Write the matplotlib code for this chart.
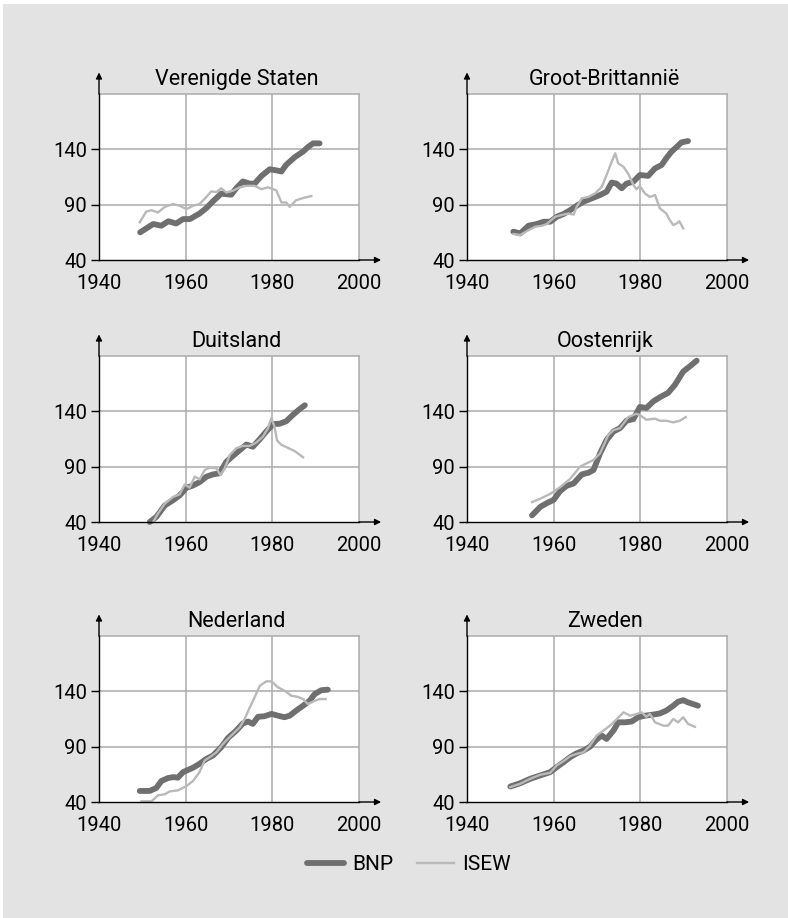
import matplotlib
matplotlib.use("Agg")
import matplotlib.pyplot as plt
from matplotlib.lines import Line2D
from matplotlib.patches import Rectangle

plt.rcParams['font.family'] = ['Roboto', 'DejaVu Sans']

# Verenigde Staten
us_bnp_x = [1949.5, 1952.5, 1954.4, 1956, 1957.8, 1959.4, 1961, 1963.2, 1964.8, 1966.3, 1968.2, 1969, 1970.5,
            1971.7, 1973.2, 1974.8, 1975.9, 1977.5, 1979.4, 1980.9, 1982.1, 1983.2, 1985.2, 1987.1, 1988.2,
            1989.4, 1990.9]
us_bnp_y = [65, 72.5, 71, 75, 73, 77, 77, 82, 87, 93, 100, 99.6, 99, 105, 111, 109, 109, 116, 122, 121, 120,
            126, 133, 138, 142, 145.4, 145.4]
us_isew_x = [1949.4, 1950.9, 1952.1, 1953.6, 1955.2, 1957.1, 1958.6, 1960.2, 1961.7, 1963.2, 1964.8, 1965.9,
             1967.1, 1968.2, 1969.4, 1970.9, 1972.5, 1974, 1975.9, 1977.5, 1979, 1980.9, 1982.1, 1983.2, 1984,
             1985.5, 1987.1, 1989]
us_isew_y = [74, 83.7, 85, 83, 88, 90.6, 89, 86, 89, 90.6, 97, 102, 101.4, 104.8, 101, 102.6, 105.7, 107, 107,
             104, 105.7, 103, 92, 92, 88, 94, 96, 97.8]

# Groot-Brittannie
gb_bnp_x = [1950.7, 1952.3, 1954.2, 1956.1, 1957.7, 1959.2, 1960.7, 1962.3, 1963.8, 1965.3, 1966.9, 1968.8,
            1970.7, 1972.2, 1973.4, 1974.5, 1975.7, 1976.8, 1978.4, 1979.9, 1981.8, 1983.4, 1984.9, 1986,
            1987.2, 1988.3, 1989.5, 1991]
gb_bnp_y = [65.6, 64, 71, 72.5, 74.6, 74.6, 79, 81.6, 85, 89, 92.7, 95.7, 98.7, 101.7, 110, 109, 104.8, 109,
            110.8, 116.8, 116, 122.8, 125.8, 132, 138, 141.8, 146.3, 147.5]
gb_isew_x = [1950.7, 1952.3, 1954.2, 1955.7, 1957.3, 1958.4, 1960.3, 1961.9, 1963.4, 1964.6, 1965.3, 1966.5,
             1968, 1969.5, 1971.1, 1972.2, 1973.4, 1974.2, 1974.9, 1976.1, 1977.2, 1978.4, 1979.1, 1979.9,
             1981.1, 1982.2, 1983.4, 1984.5, 1986, 1986.8, 1987.6, 1988.4, 1989, 1989.9]
gb_isew_y = [63.5, 62.6, 67, 70, 71, 72.5, 79, 80.7, 82, 81, 88, 95.7, 97, 100, 106, 116.8, 128.9, 136.4,
             127.3, 124.3, 118, 107.8, 103.9, 106.9, 100, 97, 98.7, 86.7, 82, 76, 71.6, 73, 75, 68.6]

# Duitsland
de_bnp_x = [1951.7, 1953.2, 1955.2, 1957.1, 1958.6, 1960.2, 1961.7, 1963.2, 1964.8, 1966.3, 1967.8, 1969.4,
            1970.9, 1972.5, 1974, 1975.5, 1977.1, 1978.6, 1980.2, 1981.7, 1983.2, 1984.8, 1986.3, 1987.5]
de_bnp_y = [40, 44.5, 55, 59.7, 64, 71, 73, 76, 81, 83, 84, 94.5, 99.7, 105, 110, 108, 114.8, 121.8, 128.5,
            128.8, 131, 137, 142, 145.5]
de_isew_x = [1952.5, 1953.6, 1955.2, 1957.1, 1958.6, 1959.8, 1960.9, 1962.1, 1963.2, 1964.4, 1965.5, 1967.1,
             1968, 1969, 1970.2, 1971.7, 1973.2, 1974.8, 1976.3, 1977.8, 1979, 1979.8, 1980.5, 1981.1, 1982.1,
             1983.6, 1985.2, 1987.1]
de_isew_y = [40, 47.6, 56.7, 62.7, 65, 74, 71, 81, 78.5, 87, 89, 88.5, 82.4, 88.5, 100.6, 106.7, 108.8, 108.8,
             111.8, 117, 124.8, 134, 126, 113.6, 109.7, 107, 104, 98.5]

# Oostenrijk
at_bnp_x = [1955, 1956.9, 1958.4, 1960, 1961.5, 1963, 1964.6, 1966.5, 1968, 1969.2, 1970.7, 1972.2, 1973.8,
            1975.3, 1976.8, 1978.4, 1979.9, 1981.4, 1983, 1984.5, 1986.4, 1988, 1989.9, 1991.4, 1993]
at_bnp_y = [46, 53.6, 57, 60, 68, 72.7, 74.8, 83, 84.5, 87, 102, 114, 121.8, 124.8, 131.5, 133, 144, 143, 149,
            152.7, 156.7, 164, 176, 180.6, 185.8]
at_isew_x = [1955, 1956.9, 1959.2, 1961.5, 1963.8, 1966.1, 1967.6, 1969.2, 1970.7, 1972.6, 1973.8, 1975.3,
             1977.2, 1979.1, 1980.3, 1981.4, 1983.4, 1984.5, 1986, 1987.6, 1989.1, 1990.5]
at_isew_y = [58, 61, 65.5, 71.5, 79, 90, 93, 96, 102, 118.6, 123, 124.8, 134.8, 137.9, 135.5, 132.4, 133.4,
             131.5, 131.5, 130, 131.5, 134.8]

# Nederland
nl_bnp_x = [1949.4, 1951.7, 1953.2, 1954.4, 1955.9, 1957.1, 1958.2, 1959.4, 1961.7, 1963.2, 1964.8, 1966.3,
            1968.2, 1969.8, 1971.7, 1973.2, 1974.4, 1975.5, 1976.7, 1978.2, 1979.8, 1981.3, 1982.8, 1984,
            1985.5, 1987.1, 1988.6, 1989.8, 1991.3, 1992.8]
nl_bnp_y = [50, 50, 52.6, 59, 61.6, 62.5, 62, 67, 71, 74.5, 79, 82, 89.5, 98, 104.6, 111, 112.7, 110.6, 117,
            117.5, 119.6, 118, 116.6, 118, 122.6, 127, 131.5, 137.6, 141, 141.5]
nl_isew_x = [1949.8, 1952.1, 1953.6, 1955.2, 1956.3, 1958.2, 1960.2, 1961.7, 1963.2, 1964.4, 1965.9, 1967.1,
             1968.6, 1970.5, 1972.5, 1973.6, 1974.8, 1975.9, 1977.1, 1978.6, 1979.8, 1981.3, 1982.8, 1984.4,
             1985.9, 1987.1, 1988.2, 1989.8, 1990.9, 1992.3]
nl_isew_y = [40.6, 40.6, 46, 47, 49.6, 50.5, 54.4, 59, 67, 77.5, 81.4, 85, 92.5, 100, 107.6, 115, 125.5, 134.5,
             145, 149, 149, 143.6, 140.6, 136, 135, 133, 128.5, 131.5, 133, 133]

# Zweden
se_bnp_x = [1950, 1952.3, 1954.6, 1956.9, 1959.2, 1960.7, 1962.3, 1963.8, 1965.3, 1966.9, 1968.4, 1969.9,
            1971.1, 1972.2, 1973.8, 1974.9, 1976.5, 1978, 1979.5, 1981.1, 1983, 1984.5, 1986, 1987.6, 1988.7,
            1989.9, 1991, 1993.3]
se_bnp_y = [54, 57, 61, 64, 67, 71.5, 76, 80.5, 84, 86.5, 90, 96.5, 100, 97, 104.6, 112, 112, 112.7, 116.6, 118,
            119, 120, 122.6, 127, 130.6, 132, 130, 127]
se_isew_x = [1950, 1952.3, 1954.6, 1956.9, 1959.2, 1960.7, 1962.3, 1963.8, 1965.3, 1966.9, 1968.4, 1969.9,
             1971.5, 1973, 1974.6, 1976.1, 1977.7, 1979.2, 1980.3, 1981.4, 1982.2, 1983.4, 1985.3, 1986.4,
             1987.6, 1988.7, 1989.9, 1991, 1992.6]
se_isew_y = [53.5, 56.5, 61, 64.6, 66.4, 73, 77, 81.4, 83.5, 85, 91, 100, 104.6, 109, 115, 121, 118, 119.6, 121,
             117, 119.6, 112, 109, 109, 115, 112, 116.6, 110.6, 108]

titles = ['Verenigde Staten', 'Groot-Brittannië', 'Duitsland', 'Oostenrijk', 'Nederland', 'Zweden']
bnp = [(us_bnp_x, us_bnp_y), (gb_bnp_x, gb_bnp_y), (de_bnp_x, de_bnp_y),
       (at_bnp_x, at_bnp_y), (nl_bnp_x, nl_bnp_y), (se_bnp_x, se_bnp_y)]
isew = [(us_isew_x, us_isew_y), (gb_isew_x, gb_isew_y), (de_isew_x, de_isew_y),
        (at_isew_x, at_isew_y), (nl_isew_x, nl_isew_y), (se_isew_x, se_isew_y)]
x_ticks = [1940, 1960, 1980, 2000]
y_ticks = [40, 90, 140]

bg = '#e2e3e2'
bnp_color = '#6f6f6f'
isew_color = '#b9b9b9'
grid_color = '#ababab'

W, H = 788, 918
fig = plt.figure(figsize=(W / 100, H / 100), dpi=100, facecolor='white')
fig.patches.append(Rectangle((3 / W, 0), 1, 1 - 4 / H, transform=fig.transFigure,
                             facecolor=bg, edgecolor='none', zorder=-10))

lefts = [99, 467]
bottoms = [260, 522, 802]
aw, ah = 260, 166

for i, title in enumerate(titles):
    col, row = i % 2, i // 2
    ax = fig.add_axes([lefts[col] / W, 1 - bottoms[row] / H, aw / W, ah / H])
    ax.set_facecolor('white')
    ax.set_xlim(1940, 2000)
    ax.set_ylim(40, 190)
    ax.set_xticks(x_ticks)
    ax.set_yticks(y_ticks)
    ax.tick_params(axis='x', length=0, pad=10, labelsize=14.5)
    ax.tick_params(axis='y', length=6, width=1, pad=2.5, labelsize=14.5)
    for x in [1960, 1980]:
        ax.axvline(x, color=grid_color, lw=1.1, zorder=1)
    for y in [90, 140]:
        ax.axhline(y, color=grid_color, lw=1.1, zorder=1)
    for s in ['top', 'right']:
        ax.spines[s].set_color(grid_color)
        ax.spines[s].set_linewidth(1.1)
    for s in ['left', 'bottom']:
        ax.spines[s].set_color('black')
        ax.spines[s].set_linewidth(1.0)
        ax.spines[s].set_zorder(4)

    ax.plot(bnp[i][0], bnp[i][1], color=bnp_color, lw=4.2, solid_capstyle='round',
            solid_joinstyle='round', zorder=3, clip_on=False)
    ax.plot(isew[i][0], isew[i][1], color=isew_color, lw=1.7, solid_joinstyle='round', zorder=3,
            clip_on=False)

    ax.annotate('', xy=(1.085, 0), xytext=(1.0, 0), xycoords='axes fraction',
                arrowprops=dict(arrowstyle='-|>', color='black', lw=1.0, mutation_scale=9,
                                shrinkA=0, shrinkB=0), annotation_clip=False)
    ax.annotate('', xy=(0, 1.13), xytext=(0, 1.0), xycoords='axes fraction',
                arrowprops=dict(arrowstyle='-|>', color='black', lw=1.0, mutation_scale=9,
                                shrinkA=0, shrinkB=0), annotation_clip=False)
    ax.set_title(title, fontsize=15.5, x=0.53, pad=6.5)

handles = [Line2D([], [], color=bnp_color, lw=4.2, solid_capstyle='round'),
           Line2D([], [], color=isew_color, lw=1.7)]
fig.legend(handles, ['BNP', 'ISEW'], loc='center', bbox_to_anchor=(409 / W, 1 - 865 / H), ncol=2,
           frameon=False, fontsize=15, handlelength=1.8, handletextpad=0.4, columnspacing=1.1)

fig.savefig('out.png', dpi=100, facecolor=fig.get_facecolor())
